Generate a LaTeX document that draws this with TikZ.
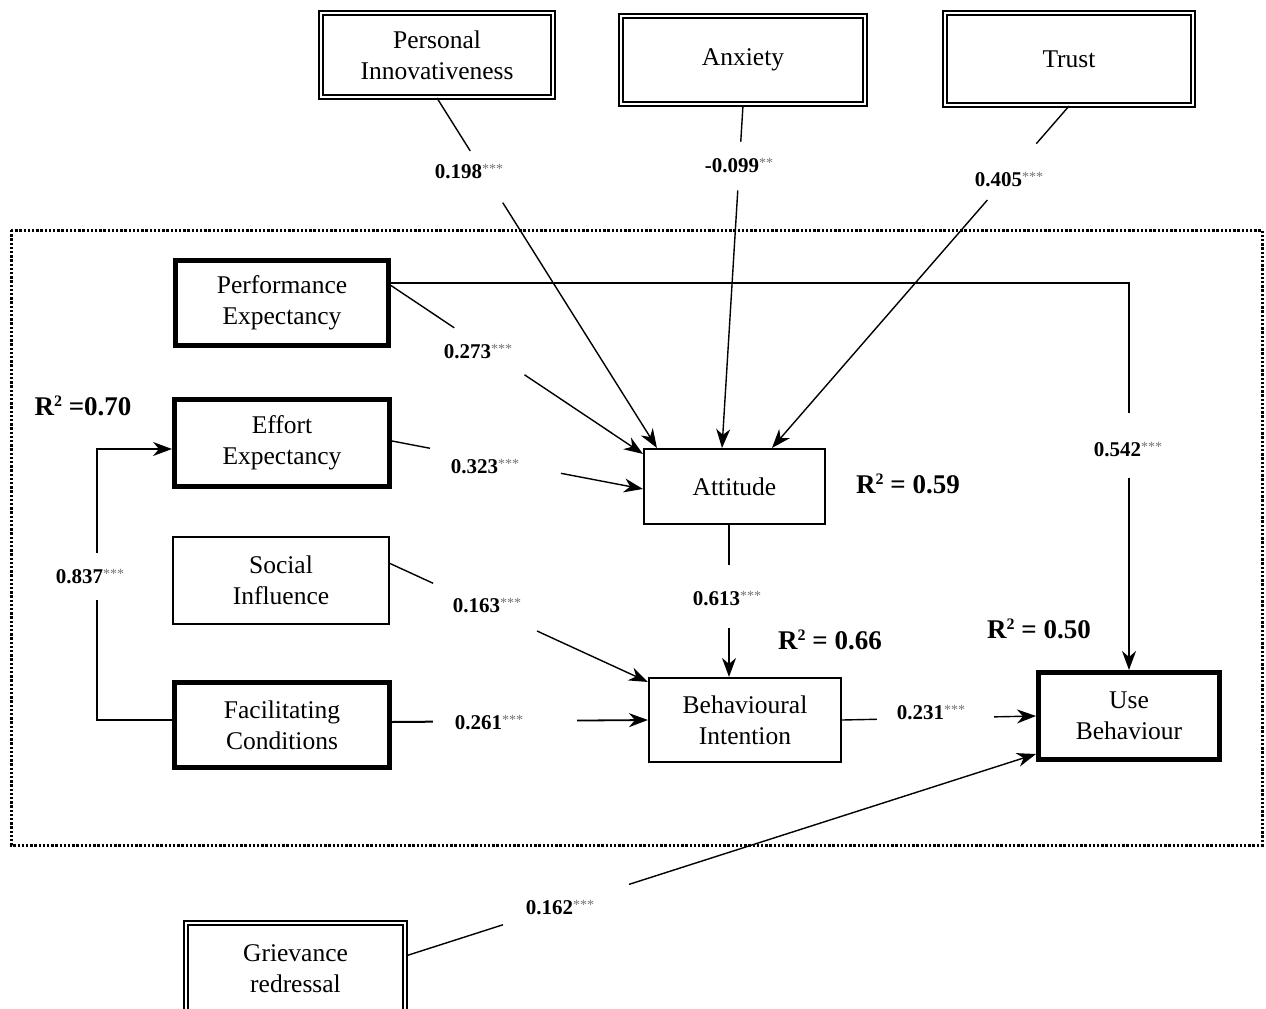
\documentclass[tikz,border=0pt]{standalone}
\usepackage{fontspec}
\setmainfont{Liberation Serif}
\usetikzlibrary{arrows.meta,calc}
\newcommand\sig[1]{\raisebox{5pt}{\fontsize{14}{14}\selectfont\mdseries\color{black!55}#1}}
\newcommand\rtwo{R\raisebox{9pt}{\fontsize{16}{16}\selectfont 2}}
\begin{document}
\begin{tikzpicture}[x=1pt,y=-1pt,
 box/.style={draw, inner sep=0pt, align=center, font=\fontsize{25.5}{31}\selectfont},
 thinbox/.style={box, line width=1.6pt},
 thickbox/.style={box, line width=5pt},
 dblbox/.style={box, line width=1.7pt, double, double distance=2.4pt},
 conn/.style={line width=1.4pt},
 arr/.style={conn, -{Stealth[length=19pt,width=14pt,inset=6pt]}},
 coef/.style={inner sep=0pt, font=\fontsize{21}{24}\selectfont\bfseries},
 rsq/.style={inner sep=0pt, font=\fontsize{27}{30}\selectfont\bfseries},
 dotframe/.style={line width=3pt, dash pattern=on 2.4pt off 1.8pt}
]
\useasboundingbox (0,0) rectangle (1266,1009);
\fill[white] (0,0) rectangle (1266,1009);

% dotted frame
\draw[dotframe] (11,230) rectangle (1262,845);

% boxes
\node[dblbox, minimum width=232.4, minimum height=84.4] (pi) at (437,55) {Personal\\Innovativeness};
\node[dblbox, minimum width=244.4, minimum height=88.4] (anx) at (743,60) {Anxiety};
\node[dblbox, minimum width=248.4, minimum height=92.4] (tr) at (1069,59) {Trust};
\node[dblbox, minimum width=219.4, minimum height=92] (gr) at (295.5,968.8) {Grievance\\redressal};

\node[thickbox, minimum width=213, minimum height=85] (pe) at (282,303) {Performance\\Expectancy};
\node[thickbox, minimum width=215, minimum height=87] (ee) at (282,443) {Effort\\Expectancy};
\node[thinbox, minimum width=216.5, minimum height=87.5] (si) at (281,580.5) {Social\\Influence};
\node[thickbox, minimum width=215, minimum height=85] (fc) at (282,725) {Facilitating\\Conditions};

\node[thinbox, minimum width=181.5, minimum height=75.5] (att) at (734.5,486.5) {Attitude};
\node[thinbox, minimum width=192.5, minimum height=84.5] (bi) at (745,720) {Behavioural\\Intention};
\node[thickbox, minimum width=181, minimum height=87] (ub) at (1129,716) {Use\\Behaviour};

% endpoints
\coordinate (piS) at (pi.south);
\coordinate (attA) at ($(att.north west)+(14,0)$);
\coordinate (anxS) at (anx.south);
\coordinate (attB) at ($(att.north)+(-12.5,0)$);
\coordinate (trS) at (tr.south);
\coordinate (attC) at ($(att.north)+(37.5,0)$);
\coordinate (peA) at ($(pe.north east)+(0,27.5)$);
\coordinate (attD) at ($(att.north west)+(0,6)$);
\coordinate (eeE) at ($(ee.east)+(0,-2)$);
\coordinate (attE) at ($(att.west)+(0,2.5)$);
\coordinate (siE) at ($(si.east)+(0,-17)$);
\coordinate (biA) at ($(bi.north west)+(0,5)$);
\coordinate (fcE) at ($(fc.east)+(0,-3)$);
\coordinate (attS) at ($(att.south)+(-5.5,0)$);
\coordinate (biN) at ($(bi.north)+(-16,0)$);
\coordinate (grE) at ($(gr.east)+(0,-13)$);
\coordinate (ubB) at ($(ub.south west)+(0,-8)$);

% connectors with gaps for the labels
\draw[conn] (piS) -- ($(piS)!0.151!(attA)$);
\draw[arr] ($(piS)!0.299!(attA)$) -- (attA);

\draw[conn] (anxS) -- ($(anxS)!0.107!(attB)$);
\draw[arr] ($(anxS)!0.249!(attB)$) -- (attB);

\draw[conn] (trS) -- ($(trS)!0.11!(attC)$);
\draw[arr] ($(trS)!0.275!(attC)$) -- (attC);

\draw[conn] (peA) -- ($(peA)!0.251!(attD)$);
\draw[arr] ($(peA)!0.53!(attD)$) -- (attD);

\draw[conn] (eeE) -- ($(eeE)!0.151!(attE)$);
\draw[arr] ($(eeE)!0.673!(attE)$) -- (attE);

\draw[conn] (siE) -- ($(siE)!0.167!(biA)$);
\draw[arr] ($(siE)!0.57!(biA)$) -- (biA);

\draw[conn, line width=2pt] (fcE) -- ($(fcE)!0.16!(bi.west)$);
\draw[arr, line width=1.8pt] ($(fcE)!0.723!(bi.west)$) -- (bi.west);

\draw[conn] (attS) -- ($(attS)!0.263!(biN)$);
\draw[arr] ($(attS)!0.678!(biN)$) -- (biN);

\draw[conn] (bi.east) -- ($(bi.east)!0.18!(ub.west)$);
\draw[arr] ($(bi.east)!0.784!(ub.west)$) -- (ub.west);

\draw[conn] (grE) -- ($(grE)!0.154!(ubB)$);
\draw[arr] ($(grE)!0.354!(ubB)$) -- (ubB);

% PE -> UB
\coordinate (k542a) at ($(ub.north)+(0,-257.5)$);
\coordinate (k542b) at ($(ub.north)+(0,-192.5)$);
\draw[conn] ($(pe.north east)+(0,25)$) -| (k542a);
\draw[arr] (k542b) -- (ub.north);

% FC -> EE
\coordinate (k837a) at (97,553);
\coordinate (k837b) at (97,600);
\draw[conn] ($(fc.west)+(0,-5)$) -| (k837b);
\draw[arr] (k837a) |- ($(ee.west)+(0,6)$);

% coefficient labels
\node[coef] (l198) at (469,172) {0.198\sig{***}};
\node[coef] (l099) at (739,166) {-0.099\sig{**}};
\node[coef] (l405) at (1009,180) {0.405\sig{***}};
\node[coef] (l273) at (478,352) {0.273\sig{***}};
\node[coef] (l323) at (485,467) {0.323\sig{***}};
\node[coef] (l163) at (487,606) {0.163\sig{***}};
\node[coef] (l261) at (489,723) {0.261\sig{***}};
\node[coef] (l613) at (727,599) {0.613\sig{***}};
\node[coef] (l231) at (931,713) {0.231\sig{***}};
\node[coef] (l542) at (1128,450) {0.542\sig{***}};
\node[coef] (l837) at (90,577) {0.837\sig{***}};
\node[coef] (l162) at (560,908) {0.162\sig{***}};

% R squared labels
\node[rsq] (r70) at (83,406) {\rtwo{} =0.70};
\node[rsq] (r59) at (908,484) {\rtwo{} = 0.59};
\node[rsq] (r66) at (830,640) {\rtwo{} = 0.66};
\node[rsq] (r50) at (1039,629) {\rtwo{} = 0.50};
\end{tikzpicture}
\end{document}
